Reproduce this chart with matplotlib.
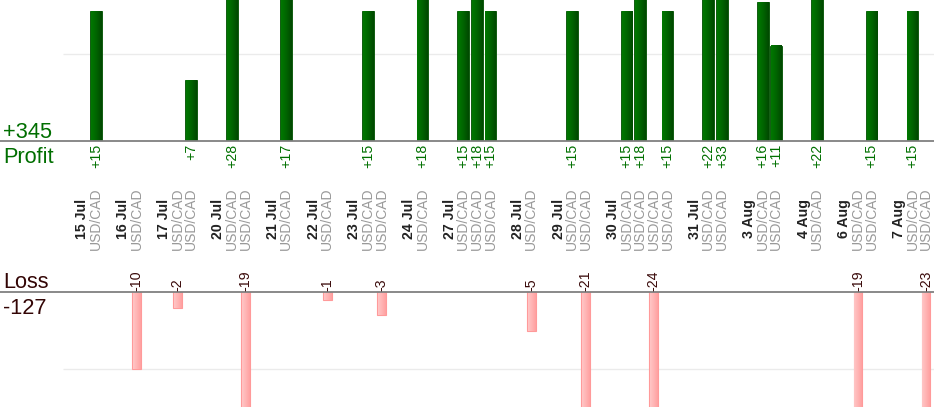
import matplotlib
matplotlib.use("Agg")
import matplotlib.pyplot as plt
import numpy as np
from matplotlib.colors import LinearSegmentedColormap
from matplotlib.transforms import blended_transform_factory

plt.rcParams['font.family'] = ['Liberation Sans', 'DejaVu Sans']

# ---- data ----
dates = ['15 Jul', '16 Jul', '17 Jul', '20 Jul', '21 Jul', '22 Jul', '23 Jul',
         '24 Jul', '27 Jul', '28 Jul', '29 Jul', '30 Jul', '31 Jul', '3 Aug',
         '4 Aug', '6 Aug', '7 Aug']
trades = [[15], [-10], [-2, 7], [28, -19], [17], [-1], [15, -3], [18],
          [15, 18, 15], [-5], [15, -21], [15, 18, -24, 15], [22, 33],
          [16, 11], [22], [-19, 15], [15, -23]]
pair = 'USD/CAD'
total_profit = '+345'
total_loss = '-127'

W, H = 934, 420
fig = plt.figure(figsize=(W / 100, H / 100), dpi=100)

slot_px = 13.61
x0_px = 82.2
xlim = (-x0_px / slot_px, (W - x0_px) / slot_px)
plot_left = (63 - x0_px) / slot_px
up_lim = (0, 16.27)
dn_lim = (-14.9, 0)

ax_up = fig.add_axes([0, 1 - 141 / H, 1, 141 / H])
ax_dn = fig.add_axes([0, 1 - 407 / H, 1, (407 - 292.3) / H])
for ax in (ax_up, ax_dn):
    ax.set_facecolor('none')
    for s in ax.spines.values():
        s.set_visible(False)
    ax.set_xticks([])
    ax.set_yticks([])

# gridlines
ax_up.hlines(10, plot_left, xlim[1], color='#ebebeb', lw=1, zorder=0)
ax_dn.hlines(-10, plot_left, xlim[1], color='#ebebeb', lw=1, zorder=0)

# build slot positions
date_pos, trade_pos, trade_val = [], [], []
k = 0
for d, tr in zip(dates, trades):
    date_pos.append(k)
    k += 1
    for v in tr:
        trade_pos.append(k)
        trade_val.append(v)
        k += 1
    k += 1  # spacer
trade_pos = np.array(trade_pos)
trade_val = np.array(trade_val)

green_cmap = LinearSegmentedColormap.from_list('g', ['#007800', '#006400', '#004800'])
pink_cmap = LinearSegmentedColormap.from_list('p', ['#ffc6c6', '#ffb4b4', '#ffa0a0'])
grad = np.linspace(0, 1, 64).reshape(1, -1)

pmask = trade_val > 0
lmask = trade_val < 0

pbars = ax_up.bar(trade_pos[pmask], trade_val[pmask], width=0.86,
                  color='#006400', edgecolor='#005000', lw=0.6, zorder=2)
lbars = ax_dn.bar(trade_pos[lmask], trade_val[lmask], width=0.64,
                  color='#ffb0b0', edgecolor='#ff9a9a', lw=0.8, zorder=2)

for ax, bars, cmap, lim in ((ax_up, pbars, green_cmap, up_lim),
                            (ax_dn, lbars, pink_cmap, dn_lim)):
    for b in bars:
        x, y = b.get_x(), b.get_y()
        w, h = b.get_width(), b.get_height()
        y0, y1 = sorted((y, y + h))
        y0, y1 = max(y0, lim[0]), min(y1, lim[1])
        inset = 0.06
        ax.imshow(grad, extent=(x + inset, x + w - inset, y0, y1), aspect='auto',
                  cmap=cmap, zorder=2.5, interpolation='bilinear')
    ax.set_xlim(*xlim)
    ax.set_ylim(*lim)

# baselines
ax_up.axhline(0, color='#808080', lw=1.3, clip_on=False, zorder=3)
ax_dn.axhline(0, color='#808080', lw=1.3, clip_on=False, zorder=3)

# value labels
for p, v in zip(trade_pos[pmask], trade_val[pmask]):
    ax_up.annotate(f'+{v}', xy=(p, 0), xytext=(0, -3), textcoords='offset pixels',
                   rotation=90, ha='center', va='top', fontsize=10.2,
                   color='#007000', annotation_clip=False)
for p, v in zip(trade_pos[lmask], trade_val[lmask]):
    ax_dn.annotate(f'{v}', xy=(p, 0), xytext=(0, 1.5), textcoords='offset pixels',
                   rotation=90, ha='center', va='bottom', fontsize=10.2,
                   color='#3a0a0a', annotation_clip=False)

# category labels
tr = blended_transform_factory(ax_up.transData, fig.transFigure)
ylab = 1 - 218.5 / H
for p, d in zip(date_pos, dates):
    ax_up.text(p, ylab, d, transform=tr, rotation=90, ha='center', va='center',
               fontsize=10.2, fontweight='bold', color='#222222', clip_on=False)
for p in trade_pos:
    ax_up.text(p, ylab, pair, transform=tr, rotation=90, ha='center', va='center',
               fontsize=10, color='#999999', clip_on=False)

# totals
fig.text(3 / W, 1 - 138 / H, total_profit, fontsize=15.7, color='#006e00', va='baseline')
fig.text(3 / W, 1 - 163 / H, 'Profit', fontsize=15.7, color='#006e00', va='baseline')
fig.text(3 / W, 1 - 288 / H, 'Loss', fontsize=15.7, color='#330505', va='baseline')
fig.text(3 / W, 1 - 314 / H, total_loss, fontsize=15.7, color='#330505', va='baseline')

fig.savefig('out.png', dpi=100)
